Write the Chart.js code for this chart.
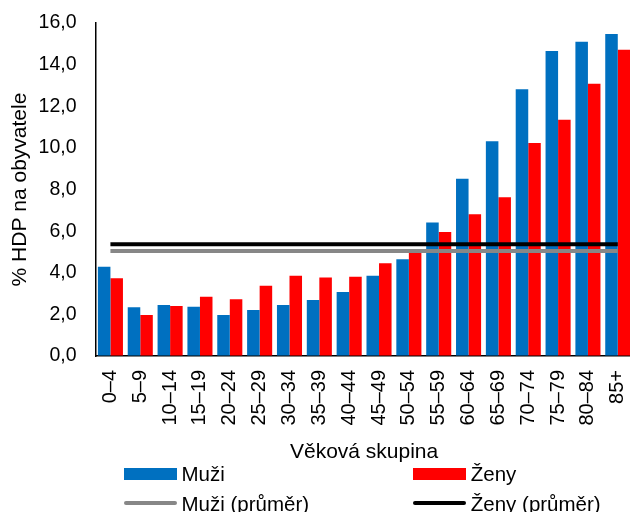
<!DOCTYPE html>
<html>
<head>
<meta charset="utf-8">
<script src="https://cdn.jsdelivr.net/npm/chart.js@4/dist/chart.umd.min.js"></script>
<style>
  html, body { margin: 0; padding: 0; overflow: hidden; background: #fff; width: 630px; height: 512px; }
  #wrap { position: relative; width: 640px; height: 512px; }
  #c { position: absolute; left: 0; top: 0; }
  .lg-text { position: absolute; font-family: "Liberation Sans", Arial, sans-serif; font-size: 20.5px; line-height: 20.5px; color: #000; white-space: nowrap; }
  .lg-swatch { position: absolute; }
</style>
</head>
<body>
<div id="wrap">
  <canvas id="c" width="640" height="512"></canvas>
  <div id="legend"></div>
</div>
<script>
// Age groups and per-capita values (% HDP na obyvatele)
const ageGroups = ['0–4', '5–9', '10–14', '15–19', '20–24', '25–29', '30–34', '35–39', '40–44',
                   '45–49', '50–54', '55–59', '60–64', '65–69', '70–74', '75–79', '80–84', '85+'];
const menValues   = [4.29, 2.34, 2.45, 2.37, 1.97, 2.21, 2.45, 2.69, 3.08,
                     3.85, 4.65, 6.41, 8.52, 10.32, 12.82, 14.65, 15.10, 15.47];
const womenValues = [3.73, 1.97, 2.40, 2.85, 2.73, 3.38, 3.85, 3.77, 3.81,
                     4.46, 5.01, 5.96, 6.81, 7.63, 10.23, 11.35, 13.08, 14.71];
const menAverage = 5.05;
const womenAverage = 5.37;
const yTickLabels = ['0,0', '2,0', '4,0', '6,0', '8,0', '10,0', '12,0', '14,0', '16,0'];
const seriesNames = ['Muži', 'Ženy', 'Muži (průměr)', 'Ženy (průměr)'];

const BLUE = '#0070C0';
const RED = '#FF0000';
const GREY = '#878787';
const BLACK = '#000000';
const FONT = '"Liberation Sans", Arial, sans-serif';

// A flat average line spanning the first to the last age group
function averageLine(value) {
  return [
    { x: ageGroups[0], y: value },
    { x: ageGroups[ageGroups.length - 1], y: value }
  ];
}

// Keep tick-label overflow from shrinking the plot area; the layout padding already leaves room
function clearLabelPadding(scale) {
  scale.paddingTop = 0;
  scale.paddingBottom = 0;
  scale.paddingLeft = 0;
  scale.paddingRight = 0;
}

new Chart(document.getElementById('c'), {
  type: 'bar',
  data: {
    labels: ageGroups,
    datasets: [
      { label: seriesNames[0], data: menValues, backgroundColor: BLUE, order: 2,
        categoryPercentage: 0.84, barPercentage: 1.0 },
      { label: seriesNames[1], data: womenValues, backgroundColor: RED, order: 2,
        categoryPercentage: 0.84, barPercentage: 1.0 },
      { type: 'line', label: seriesNames[2], data: averageLine(menAverage), borderColor: GREY,
        borderWidth: 4, pointRadius: 0, fill: false, order: 1, borderCapStyle: 'butt' },
      { type: 'line', label: seriesNames[3], data: averageLine(womenAverage), borderColor: BLACK,
        borderWidth: 4, pointRadius: 0, fill: false, order: 0, borderCapStyle: 'butt' }
    ]
  },
  options: {
    responsive: false,
    animation: false,
    events: [],
    layout: { autoPadding: false, padding: { top: 23, right: 7.3, bottom: 47, left: 0 } },
    plugins: { legend: { display: false }, tooltip: { enabled: false } },
    scales: {
      x: {
        grid: { drawOnChartArea: false, drawTicks: false },
        border: { display: true, color: BLACK, width: 1.5 },
        ticks: {
          color: BLACK, font: { family: FONT, size: 20 }, padding: 14,
          minRotation: 90, maxRotation: 90, autoSkip: false
        },
        title: {
          display: true, text: 'Věková skupina', color: BLACK,
          font: { family: FONT, size: 21 }, padding: { top: 0, bottom: 0 }
        },
        afterFit(scale) { scale.height = 109; clearLabelPadding(scale); }
      },
      y: {
        min: 0, max: 16,
        grid: { drawOnChartArea: false, drawTicks: false },
        border: { display: true, color: BLACK, width: 1.5 },
        ticks: {
          stepSize: 2, color: BLACK, font: { family: FONT, size: 19.5 }, padding: 19,
          callback: (value, index) => yTickLabels[index]
        },
        title: {
          display: true, text: '% HDP na obyvatele', color: BLACK,
          font: { family: FONT, size: 21 }, padding: { top: 8, bottom: 0 }
        },
        afterFit(scale) { scale.width = 95.5; clearLabelPadding(scale); }
      }
    }
  }
});

// Legend: two columns, bars on the first row, average lines on the second
const legend = document.getElementById('legend');
const legendItems = [
  { name: seriesNames[0], color: BLUE,  kind: 'box',  left: 124,   row: 0 },
  { name: seriesNames[1], color: RED,   kind: 'box',  left: 413.3, row: 0 },
  { name: seriesNames[2], color: GREY,  kind: 'line', left: 124,   row: 1 },
  { name: seriesNames[3], color: BLACK, kind: 'line', left: 413.3, row: 1 }
];
legendItems.forEach(item => {
  const sw = document.createElement('div');
  sw.className = 'lg-swatch';
  sw.style.left = item.left + 'px';
  sw.style.width = '52.5px';
  sw.style.background = item.color;
  if (item.kind === 'box') {
    sw.style.top = '467.5px';
    sw.style.height = '12px';
  } else {
    sw.style.top = '501.3px';
    sw.style.height = '4px';
    sw.style.borderRadius = '2px';
  }
  legend.appendChild(sw);
  const tx = document.createElement('div');
  tx.className = 'lg-text';
  tx.textContent = item.name;
  tx.style.left = (item.left + 57.5) + 'px';
  tx.style.top = (464.3 + item.row * 29.8) + 'px';
  legend.appendChild(tx);
});
</script>
</body>
</html>
